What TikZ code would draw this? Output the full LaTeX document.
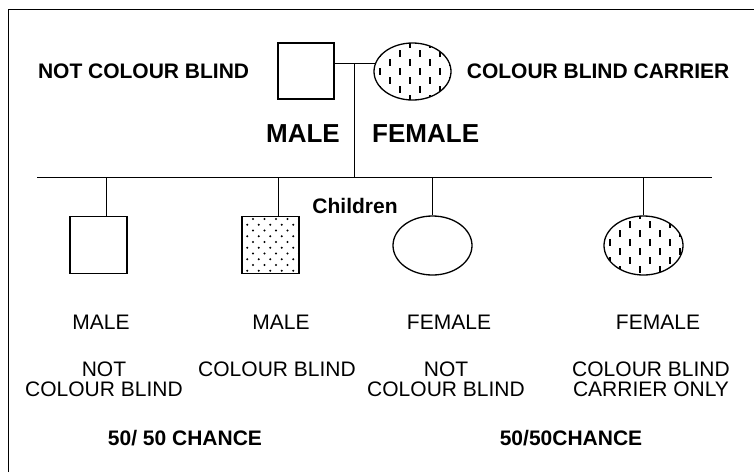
\documentclass[tikz,border=0pt]{standalone}
\usepackage{fontspec}
\setmainfont{Liberation Sans}
\usetikzlibrary{positioning,shapes.geometric,patterns.meta}

\tikzdeclarepattern{
  name=sparsedots, type=uncolored,
  bottom left={(-2pt,-2pt)}, top right={(13pt,13pt)},
  tile size={(11.5pt,11.5pt)},
  code={\fill (0pt,0pt) circle (1.1pt); \fill (5.75pt,5.75pt) circle (1.1pt);}
}
\tikzdeclarepattern{
  name=shortdash, type=uncolored,
  bottom left={(-2pt,-1pt)}, top right={(22pt,19pt)},
  tile size={(20pt,18pt)},
  code={\draw[line width=1.5pt] (0pt,1pt) -- (0pt,8pt) (10pt,10pt) -- (10pt,17pt);}
}

\tikzset{
  malebox/.style   = {rectangle, draw, line width=1.3pt, minimum size=57pt, inner sep=0pt},
  femaleegg/.style = {ellipse, draw, line width=1.3pt, minimum width=79pt,
                      minimum height=59pt, inner sep=0pt},
  blindfill/.style   = {pattern=sparsedots},
  carrierfill/.style = {pattern=shortdash},
  tag/.style    = {inner sep=0pt, font=\fontsize{21}{20}\selectfont},
  btag/.style   = {inner sep=0pt, font=\fontsize{21}{20}\selectfont\bfseries},
  bigtag/.style = {inner sep=0pt, font=\fontsize{26}{26}\selectfont\bfseries},
  kin/.style    = {line width=1pt},
}

\begin{document}
\begin{tikzpicture}[x=1pt, y=-1pt]
\useasboundingbox (0,0) rectangle (754,472);
\draw[line width=0.8pt] (8,472) -- (8,9) -- (754,9);

% ---------------- the parents -----------------------------------------
\node[malebox, minimum size=56pt] (father) at (306,71) {};
\node[femaleegg, carrierfill, minimum width=77pt, minimum height=57pt] (mother) at (412.5,71.5) {};

\node[btag, left=28pt of father] (fatherlbl) {NOT COLOUR BLIND};
\node[btag, right=15pt of mother] (motherlbl) {COLOUR BLIND CARRIER};

\draw[kin] (father.east |- mother.168) -- coordinate (mid) (mother.168);

\node[bigtag, anchor=east] (malehead) at (340,134) {MALE};
\node[bigtag, anchor=west] (femalehead) at (372,134) {FEMALE};

% ---------------- the children ----------------------------------------
\coordinate (sibL) at (37,177);
\coordinate (sibR) at (712,177);
\draw[kin] (mid) -- (mid |- sibL);
\draw[kin] (sibL) -- (sibR);

\node[btag] (kids) at (355,206) {Children};

\node[malebox] (c1) at (98.5,245) {};
\node[malebox, blindfill] (c2) at (270.5,245) {};
\node[femaleegg] (c3) at (432.5,245.5) {};
\node[femaleegg, carrierfill] (c4) at (643.5,245.5) {};

\foreach \c/\dx in {c1/8, c2/8, c3/0, c4/0}
  \draw[kin] ([xshift=\dx pt]\c.north) -- ([xshift=\dx pt]\c.north |- sibL);

% ---------------- what each child is ----------------------------------
\node[tag] (s1) at (101,322) {MALE};
\node[tag] (s2) at (281,322) {MALE};
\node[tag] (s3) at (449,322) {FEMALE};
\node[tag] (s4) at (658,322) {FEMALE};

\node[tag, align=center] (d1) at (104,379) {NOT\\COLOUR BLIND};
\node[tag] (d2) at (277,369) {COLOUR BLIND};
\node[tag, align=center] (d3) at (446,379) {NOT\\COLOUR BLIND};
\node[tag, align=center] (d4) at (651,379) {COLOUR BLIND\\CARRIER ONLY};

\node[btag] (odds1) at (185,438) {50/ 50 CHANCE};
\node[btag] (odds2) at (571,438) {50/50CHANCE};

\end{tikzpicture}
\end{document}
